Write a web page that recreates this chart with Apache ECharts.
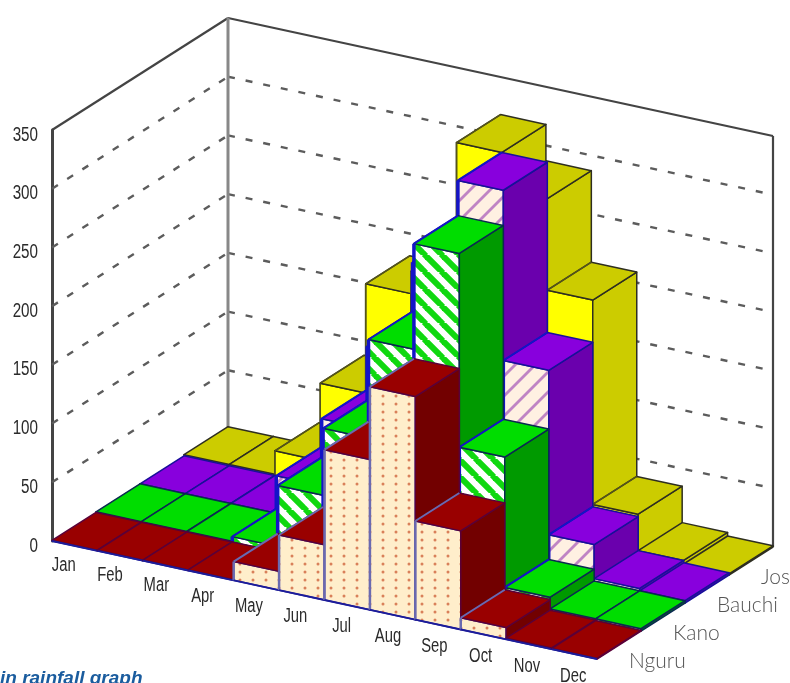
<!DOCTYPE html>
<html>
<head>
<meta charset="utf-8">
<style>html,body{margin:0;padding:0;background:#fff}#c{width:790px;height:683px}</style>
<script src="https://cdn.jsdelivr.net/npm/echarts@6/dist/echarts.min.js"></script>
</head>
<body>
<div id="c"></div>
<script>
const months = ['Jan','Feb','Mar','Apr','May','Jun','Jul','Aug','Sep','Oct','Nov','Dec'];
const stations = ['Nguru','Kano','Bauchi','Jos'];
const ticks = [0,50,100,150,200,250,300,350];
const nguru  = [0.5,0.5,0.5,0.5,16,47,128,190,84,10,1,0.5];
const kano   = [1,1,1,5,57,114,198,288,123,12,2,2];
const bauchi = [1,1,1,33,90,160,240,318,173,33,4,2];
const jos    = [2,2,22,88,181,200,318,287,209,35,4,1];

const DEPTH_DX = 44, DEPTH_DY = -28, FLOOR_SLOPE = 118 / 545;
const NARROW = '"Liberation Sans", sans-serif';

function tile(w, h, draw) {
  const c = document.createElement('canvas');
  c.width = w; c.height = h;
  draw(c.getContext('2d'), w, h);
  return { image: c, repeat: 'repeat' };
}
function stripes(bg, fg, size, lw, dir) {
  return tile(size, size, (g, w, h) => {
    g.fillStyle = bg; g.fillRect(0, 0, w, h);
    g.strokeStyle = fg; g.lineWidth = lw;
    for (let k = -1; k <= 1; k++) {
      g.beginPath();
      if (dir > 0) { g.moveTo(k * w - 1, h + 1); g.lineTo(k * w + w + 1, -1); }
      else { g.moveTo(k * w - 1, -1); g.lineTo(k * w + w + 1, h + 1); }
      g.stroke();
    }
  });
}
const dots = tile(13, 8, (g, w, h) => {
  g.fillStyle = '#ffeecb'; g.fillRect(0, 0, w, h);
  g.fillStyle = '#d9805a';
  g.beginPath(); g.arc(6, 4, 1.5, 0, Math.PI * 2); g.fill();
});

const looks = [
  { values: jos,    depth: 3, front: '#ffff00', top: '#cccc00', side: '#cccc00', edge: '#2e2e20', topEdge: '#2e2e20', accent: '#55551a', accentW: 1.5 },
  { values: bauchi, depth: 2, front: stripes('#fff0e2', '#c084c4', 20, 2.8, 1), top: '#8800dd', side: '#6a00ad', edge: '#18109a', topEdge: '#18109a', accent: '#1414c8', accentW: 3.5 },
  { values: kano,   depth: 1, front: stripes('#ffffff', '#10d810', 17, 6, -1), top: '#00dd00', side: '#009a00', edge: '#0a2a50', topEdge: '#0a2a50', accent: '#1414c8', accentW: 3.5 },
  { values: nguru,  depth: 0, front: dots, top: '#990000', side: '#720000', edge: '#1c1c9a', topEdge: '#5a0038', accent: '#6a6ab0', accentW: 2.5 }
];

function project(api, i, d, v) {
  const c = api.coord([i, v]);
  const c0 = api.coord([0, 0]);
  return [c[0] + d * DEPTH_DX, c[1] + (c[0] - c0[0]) * FLOOR_SLOPE + d * DEPTH_DY];
}
function poly(points, fill, stroke, lw) {
  return { type: 'polygon', shape: { points }, style: { fill, stroke, lineWidth: lw, lineJoin: 'round' } };
}
function line(a, b, stroke, lw, dash) {
  return { type: 'line', shape: { x1: a[0], y1: a[1], x2: b[0], y2: b[1] },
    style: { stroke, lineWidth: lw, lineDash: dash || null, fill: null } };
}

const barSeries = looks.map(s => ({
  type: 'custom',
  name: stations[s.depth],
  silent: true,
  animation: false,
  data: s.values.map((v, i) => [i, v]),
  renderItem(params, api) {
    const i = api.value(0), v = api.value(1), d = s.depth;
    const P = (a, b, h) => project(api, i + a, d + b, h);
    const els = [
      poly([P(0,0,v), P(1,0,v), P(1,0,0), P(0,0,0)], s.front, s.edge, 1.5),
      poly([P(1,0,v), P(1,1,v), P(1,1,0), P(1,0,0)], s.side, s.topEdge, 1.5),
      poly([P(0,0,v), P(1,0,v), P(1,1,v), P(0,1,v)], s.top, s.topEdge, 1.5)
    ];
    if (v > 4) els.push(line(P(0,0,v), P(0,0,0), s.accent, s.accentW));
    if (v > 4) els.push(line(P(0,0,v), P(0,1,v), s.accent, Math.min(s.accentW, 2)));
    els.push(line(P(0,0,0), P(1,0,0), s.edge, 1.8));
    return { type: 'group', children: els };
  }
}));

const wallSeries = {
  type: 'custom',
  silent: true,
  animation: false,
  data: ticks.map(t => [0, t]),
  renderItem(params, api) {
    const v = api.value(1);
    const top = ticks[ticks.length - 1];
    const A = project(api, 0, 0, v), B = project(api, 0, 4, v), C = project(api, 12, 4, v);
    const els = [];
    if (v === top) {
      els.push(line(A, B, '#444', 2.2), line(B, C, '#444', 2.2));
      els.push(line(B, project(api, 0, 4, 0), '#888', 3));
      els.push(line(C, project(api, 12, 4, 0), '#444', 2.2));
    } else if (v > 0) {
      els.push(line(A, B, '#5c5c5c', 2.4, [7, 11]), line(B, C, '#5c5c5c', 2.4, [7, 11]));
    }
    return { type: 'group', children: els };
  }
};

const tickLabels = {
  type: 'custom',
  silent: true,
  animation: false,
  data: ticks.map(t => [0, t]),
  renderItem(params, api) {
    const v = api.value(1);
    const p = api.coord([0, v]);
    return { type: 'text', x: 38, y: p[1] + 5, scaleX: 0.76,
      style: { text: String(v), fill: '#2b2b2b', font: '20px ' + NARROW, align: 'right', verticalAlign: 'middle' } };
  }
};
const monthLabels = {
  type: 'custom',
  silent: true,
  animation: false,
  data: months.map((m, i) => [i]),
  renderItem(params, api) {
    const i = api.value(0);
    const p = project(api, i * 1.02 + 0.5, 0, 0);
    return { type: 'text', x: p[0] - 11, y: p[1] + 20, scaleX: 0.74,
      style: { text: months[i], fill: '#2b2b2b', font: '20px ' + NARROW, align: 'center', verticalAlign: 'middle' } };
  }
};
const stationLabels = {
  type: 'custom',
  silent: true,
  animation: false,
  data: stations.map((m, i) => [i]),
  renderItem(params, api) {
    const d = api.value(0);
    const p = project(api, 12, d + 0.5, 0);
    return { type: 'text', x: p[0] + 10, y: p[1] + 16,
      style: { text: stations[d], fill: '#555', font: '300 21px Lato, sans-serif', align: 'left', verticalAlign: 'middle' } };
  }
};

const chart = echarts.init(document.getElementById('c'), null, { renderer: 'canvas' });
chart.setOption({
  animation: false,
  backgroundColor: '#ffffff',
  grid: { left: 52, top: 130, width: 545, height: 411, containLabel: false },
  xAxis: { type: 'value', min: 0, max: 12, show: false },
  yAxis: {
    type: 'value', min: 0, max: 350, interval: 50,
    axisLine: { show: true, lineStyle: { color: '#444', width: 3 } },
    axisTick: { show: false },
    splitLine: { show: false },
    axisLabel: { show: false }
  },
  graphic: [{
    type: 'text', left: 0, top: 669, silent: true,
    style: { text: 'in rainfall graph', fill: '#1a5c9e', font: 'italic bold 19px "Liberation Sans", sans-serif' }
  }],
  series: [wallSeries].concat(barSeries, [tickLabels, monthLabels, stationLabels])
});
</script>
</body>
</html>
